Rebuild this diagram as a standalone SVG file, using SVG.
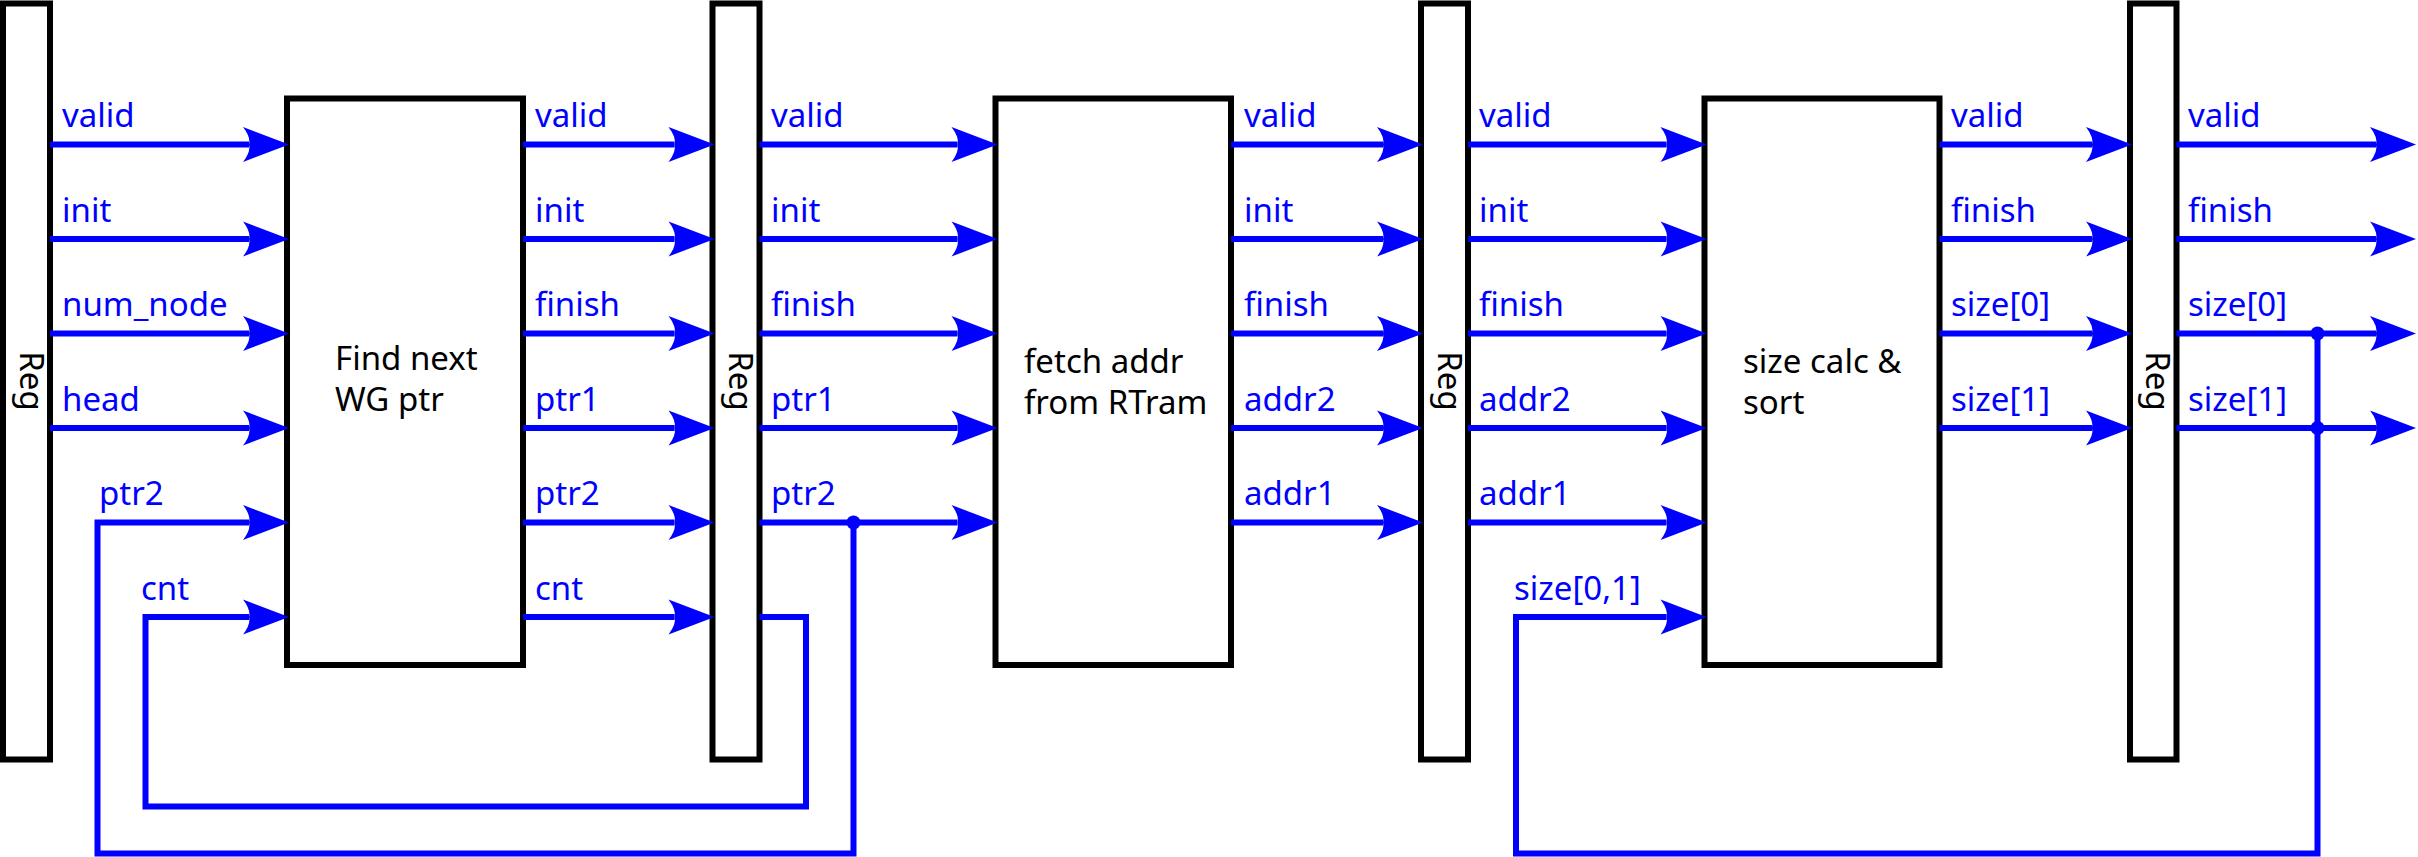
<svg xmlns="http://www.w3.org/2000/svg" width="2418" height="857" viewBox="0 0 2418 857">
<style>
.box{fill:#fff;stroke:#000;stroke-width:6}
.bt{font-family:"Noto Sans","DejaVu Sans",sans-serif;font-size:33px;fill:#000}
.lb{font-family:"Noto Sans","DejaVu Sans",sans-serif;font-size:33px;fill:#0000ff}
.w{fill:none;stroke:#0000ff;stroke-width:6}
.a{marker-end:url(#arr)}
.dot{fill:#0000ff}
</style>
<defs>
<marker id="arr" markerUnits="userSpaceOnUse" viewBox="-2 -20 50 40" refX="6" refY="0" markerWidth="50" markerHeight="40" orient="auto">
<path d="M46,0 L0,-17.5 Q8,-7 6,0 Q8,7 0,17.5 Z" fill="#0000ff"/>
</marker>
</defs>

<g id="reg1"><rect class="box" x="3" y="3.5" width="47" height="756"/><text class="bt" text-anchor="middle" transform="translate(19.5,381) rotate(90)">Reg</text></g>
<g id="reg2"><rect class="box" x="712.5" y="3.5" width="47" height="756"/><text class="bt" text-anchor="middle" transform="translate(729,381) rotate(90)">Reg</text></g>
<g id="reg3"><rect class="box" x="1421" y="3.5" width="47" height="756"/><text class="bt" text-anchor="middle" transform="translate(1437.5,381) rotate(90)">Reg</text></g>
<g id="reg4"><rect class="box" x="2130" y="3.5" width="46.5" height="756"/><text class="bt" text-anchor="middle" transform="translate(2146,381) rotate(90)">Reg</text></g>

<g id="find"><rect class="box" x="287" y="98.5" width="236" height="566.5"/><text class="bt" x="335" y="370">Find next</text><text class="bt" x="335" y="411">WG ptr</text></g>
<g id="fetch"><rect class="box" x="995.5" y="98.5" width="235.5" height="566.5"/><text class="bt" x="1024" y="373">fetch addr</text><text class="bt" x="1024" y="414">from RTram</text></g>
<g id="size"><rect class="box" x="1704.5" y="98.5" width="235" height="566.5"/><text class="bt" x="1743" y="373">size calc &amp;</text><text class="bt" x="1743" y="414">sort</text></g>

<g id="connectors">
<!-- stage 1 -->
<path class="w a" d="M50,144.5 H249"/>
<path class="w a" d="M50,239 H249"/>
<path class="w a" d="M50,333.5 H249"/>
<path class="w a" d="M50,428 H249"/>
<path class="w a" d="M853.5,522.5 V853.5 H97.5 V522.5 H249"/>
<path class="w a" d="M759.5,617 H806 V806.5 H145.5 V617 H249"/>
<!-- stage 2 -->
<path class="w a" d="M523,144.5 H674.5"/>
<path class="w a" d="M523,239 H674.5"/>
<path class="w a" d="M523,333.5 H674.5"/>
<path class="w a" d="M523,428 H674.5"/>
<path class="w a" d="M523,522.5 H674.5"/>
<path class="w a" d="M523,617 H674.5"/>
<!-- stage 3 -->
<path class="w a" d="M759.5,144.5 H957.5"/>
<path class="w a" d="M759.5,239 H957.5"/>
<path class="w a" d="M759.5,333.5 H957.5"/>
<path class="w a" d="M759.5,428 H957.5"/>
<path class="w a" d="M759.5,522.5 H957.5"/>
<circle class="dot" cx="853.5" cy="522.5" r="7"/>
<!-- stage 4 -->
<path class="w a" d="M1231,144.5 H1383"/>
<path class="w a" d="M1231,239 H1383"/>
<path class="w a" d="M1231,333.5 H1383"/>
<path class="w a" d="M1231,428 H1383"/>
<path class="w a" d="M1231,522.5 H1383"/>
<!-- stage 5 -->
<path class="w a" d="M1468,144.5 H1666.5"/>
<path class="w a" d="M1468,239 H1666.5"/>
<path class="w a" d="M1468,333.5 H1666.5"/>
<path class="w a" d="M1468,428 H1666.5"/>
<path class="w a" d="M1468,522.5 H1666.5"/>
<path class="w a" d="M2317.5,333.5 V853.5 H1516 V617 H1666.5"/>
<!-- stage 6 -->
<path class="w a" d="M1939.5,144.5 H2092"/>
<path class="w a" d="M1939.5,239 H2092"/>
<path class="w a" d="M1939.5,333.5 H2092"/>
<path class="w a" d="M1939.5,428 H2092"/>
<!-- stage 7 -->
<path class="w a" d="M2176.5,144.5 H2376"/>
<path class="w a" d="M2176.5,239 H2376"/>
<path class="w a" d="M2176.5,333.5 H2376"/>
<path class="w a" d="M2176.5,428 H2376"/>
<circle class="dot" cx="2317.5" cy="333.5" r="7"/>
<circle class="dot" cx="2317.5" cy="428" r="7"/>
</g>

<g id="labels">
<text class="lb" x="62" y="127">valid</text>
<text class="lb" x="62" y="221.5">init</text>
<text class="lb" x="62" y="316">num_node</text>
<text class="lb" x="62" y="410.5">head</text>
<text class="lb" x="99" y="505">ptr2</text>
<text class="lb" x="141" y="599.5">cnt</text>

<text class="lb" x="535" y="127">valid</text>
<text class="lb" x="535" y="221.5">init</text>
<text class="lb" x="535" y="316">finish</text>
<text class="lb" x="535" y="410.5">ptr1</text>
<text class="lb" x="535" y="505">ptr2</text>
<text class="lb" x="535" y="599.5">cnt</text>

<text class="lb" x="771" y="127">valid</text>
<text class="lb" x="771" y="221.5">init</text>
<text class="lb" x="771" y="316">finish</text>
<text class="lb" x="771" y="410.5">ptr1</text>
<text class="lb" x="771" y="505">ptr2</text>

<text class="lb" x="1244" y="127">valid</text>
<text class="lb" x="1244" y="221.5">init</text>
<text class="lb" x="1244" y="316">finish</text>
<text class="lb" x="1244" y="410.5">addr2</text>
<text class="lb" x="1244" y="505">addr1</text>

<text class="lb" x="1479" y="127">valid</text>
<text class="lb" x="1479" y="221.5">init</text>
<text class="lb" x="1479" y="316">finish</text>
<text class="lb" x="1479" y="410.5">addr2</text>
<text class="lb" x="1479" y="505">addr1</text>
<text class="lb" x="1514" y="599.5">size[0,1]</text>

<text class="lb" x="1951" y="127">valid</text>
<text class="lb" x="1951" y="221.5">finish</text>
<text class="lb" x="1951" y="316">size[0]</text>
<text class="lb" x="1951" y="410.5">size[1]</text>

<text class="lb" x="2188" y="127">valid</text>
<text class="lb" x="2188" y="221.5">finish</text>
<text class="lb" x="2188" y="316">size[0]</text>
<text class="lb" x="2188" y="410.5">size[1]</text>
</g>
</svg>
